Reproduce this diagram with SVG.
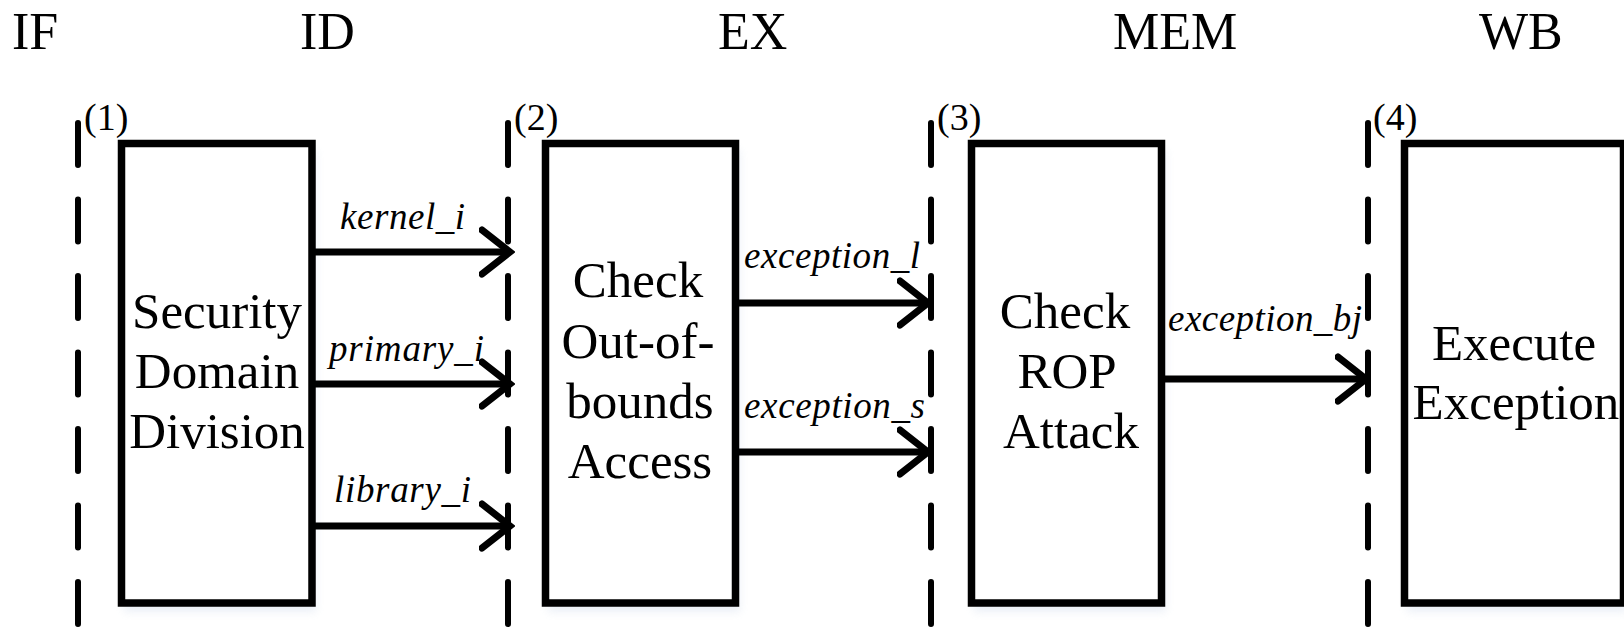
<svg xmlns="http://www.w3.org/2000/svg" width="1624" height="627" viewBox="0 0 1624 627">
  <style>
    text { font-family: "Liberation Serif", "Times New Roman", Times, serif; fill: #000; }
    .stage { font-size: 52px; }
    .num { font-size: 38px; }
    .box { fill: #fff; stroke: #000; stroke-width: 7.5; }
    .boxtext { font-size: 51px; text-anchor: middle; }
    .sig { font-size: 37px; font-style: italic; }
    .divider { stroke: #000; stroke-width: 6; stroke-linecap: round; stroke-dasharray: 42 34.5; fill: none; }
    .wire { stroke: #000; stroke-width: 7; fill: none; marker-end: url(#chevron); }
  </style>
  <defs>
    <marker id="chevron" markerUnits="userSpaceOnUse" viewBox="0 0 36 52" markerWidth="36" markerHeight="52" refX="31" refY="26" orient="auto">
      <path d="M3,4 L31,26 L3,48" fill="none" stroke="#000" stroke-width="7" stroke-linecap="round" stroke-linejoin="miter"/>
    </marker>
    <filter id="soft" x="-10%" y="-10%" width="120%" height="120%">
      <feGaussianBlur stdDeviation="4"/>
    </filter>
  </defs>

  <rect width="1624" height="627" fill="#fff"/>

  <!-- pipeline stage headings -->
  <g id="stages">
    <text class="stage" x="12" y="49">IF</text>
    <text class="stage" x="300" y="49">ID</text>
    <text class="stage" x="718" y="49">EX</text>
    <text class="stage" x="1113" y="49">MEM</text>
    <text class="stage" x="1479" y="49">WB</text>
  </g>

  <!-- stage boundaries -->
  <g id="boundaries">
    <line class="divider" x1="78" y1="123" x2="78" y2="640"/>
    <line class="divider" x1="508" y1="123" x2="508" y2="640"/>
    <line class="divider" x1="931" y1="123" x2="931" y2="640"/>
    <line class="divider" x1="1368" y1="123" x2="1368" y2="640"/>
    <text class="num" x="84" y="130">(1)</text>
    <text class="num" x="514" y="130">(2)</text>
    <text class="num" x="937" y="130">(3)</text>
    <text class="num" x="1373" y="130">(4)</text>
  </g>

  <!-- faint halo under the blocks -->
  <g id="halo" opacity="0.35" filter="url(#soft)">
    <rect x="124" y="150" width="192" height="462" fill="#c9d6e8"/>
    <rect x="548" y="150" width="192" height="462" fill="#c9d6e8"/>
    <rect x="974" y="150" width="192" height="462" fill="#c9d6e8"/>
    <rect x="1407" y="150" width="220" height="462" fill="#c9d6e8"/>
  </g>

  <g id="security-domain-division">
    <rect class="box" x="121.5" y="143.5" width="190.5" height="459.5"/>
    <text class="boxtext" x="217" y="328">Security</text>
    <text class="boxtext" x="217" y="388">Domain</text>
    <text class="boxtext" x="217" y="448">Division</text>
  </g>

  <g id="check-out-of-bounds-access">
    <rect class="box" x="545.5" y="143.5" width="190" height="459.5"/>
    <text class="boxtext" x="638" y="297">Check</text>
    <text class="boxtext" x="638" y="358">Out-of-</text>
    <text class="boxtext" x="640" y="418">bounds</text>
    <text class="boxtext" x="640" y="478">Access</text>
  </g>

  <g id="check-rop-attack">
    <rect class="box" x="971.5" y="143.5" width="190" height="459.5"/>
    <text class="boxtext" x="1065" y="328">Check</text>
    <text class="boxtext" x="1067" y="388">ROP</text>
    <text class="boxtext" x="1071" y="448">Attack</text>
  </g>

  <g id="execute-exception">
    <rect class="box" x="1404.5" y="143.5" width="219" height="459.5"/>
    <text class="boxtext" x="1514" y="360">Execute</text>
    <text class="boxtext" x="1516" y="419">Exception</text>
  </g>

  <!-- signals between stages -->
  <g id="connectors">
    <line class="wire" x1="312" y1="252" x2="510" y2="252"/>
    <line class="wire" x1="312" y1="384" x2="510" y2="384"/>
    <line class="wire" x1="312" y1="526" x2="510" y2="526"/>
    <line class="wire" x1="735.5" y1="303" x2="928" y2="303"/>
    <line class="wire" x1="735.5" y1="452" x2="928" y2="452"/>
    <line class="wire" x1="1161.5" y1="379" x2="1366" y2="379"/>
    <text class="sig" x="340" y="229" textLength="125" lengthAdjust="spacing">kernel_i</text>
    <text class="sig" x="329" y="361" textLength="155" lengthAdjust="spacing">primary_i</text>
    <text class="sig" x="334" y="502" textLength="137" lengthAdjust="spacing">library_i</text>
    <text class="sig" x="744" y="268" textLength="176" lengthAdjust="spacing">exception_l</text>
    <text class="sig" x="744" y="418" textLength="181" lengthAdjust="spacing">exception_s</text>
    <text class="sig" x="1168" y="331" textLength="194" lengthAdjust="spacing">exception_bj</text>
  </g>
</svg>
